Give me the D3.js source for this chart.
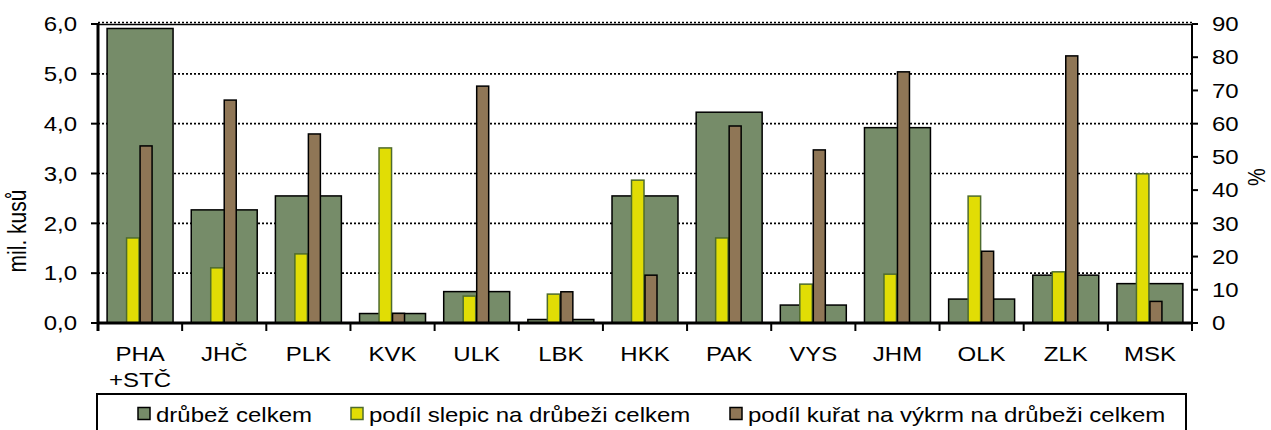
<!DOCTYPE html>
<html>
<head>
<meta charset="utf-8">
<script src="https://cdn.jsdelivr.net/npm/d3@7"></script>
<style>
    body { margin: 0; background: #fff; }
    text { font-family: "Liberation Sans", Arial, sans-serif; fill: #000; }
</style>
</head>
<body>
<div id="chart"></div>
<script>
// kraje
var categories = ["PHA\n+STČ", "JHČ", "PLK", "KVK", "ULK", "LBK", "HKK", "PAK", "VYS", "JHM", "OLK", "ZLK", "MSK"];
// drůbež celkem (mil. kusů)
var drubez = [5.91, 2.27, 2.55, 0.19, 0.63, 0.07, 2.55, 4.23, 0.36, 3.92, 0.48, 0.96, 0.79];
// podíl slepic (%)
var slepice = [25.6, 16.6, 20.8, 52.7, 8.1, 8.7, 43.0, 25.6, 11.7, 14.7, 38.2, 15.4, 44.9];
// podíl kuřat na výkrm (%)
var kurata = [53.3, 67.1, 56.9, 2.9, 71.3, 9.4, 14.4, 59.3, 52.1, 75.6, 21.6, 80.4, 6.5];

var leftTicks = [0, 1, 2, 3, 4, 5, 6];
var rightTicks = [0, 10, 20, 30, 40, 50, 60, 70, 80, 90];
var seriesNames = ["drůbež celkem", "podíl slepic na drůbeži celkem", "podíl kuřat na výkrm na drůbeži celkem"];

var width = 1271;
var height = 430;
var plotLeft = 98, plotRight = 1192, plotTop = 24, plotBottom = 323;
var stretch = 1.2; // text in the original is wider than normal

var green = "#768c69", yellow = "#e1dd05", brown = "#8f7656", yellowStroke = "#4e6b2e";

var svg = d3.select("#chart").append("svg")
    .attr("width", width)
    .attr("height", height);

var x = d3.scaleBand()
    .domain(categories)
    .range([plotLeft, plotRight])
    .paddingInner(0.216)
    .paddingOuter(0.108);

var step = x.step();

var yLeft = d3.scaleLinear().domain([0, 6]).range([plotBottom, plotTop]);
var yRight = d3.scaleLinear().domain([0, 90]).range([plotBottom, plotTop]);

function center(c) {
    return x(c) + x.bandwidth() / 2;
}

//Gridlines
svg.selectAll("line.grid")
    .data(leftTicks.filter((d) => d > 0))
    .enter()
    .append("line")
    .attr("class", "grid")
    .attr("x1", plotLeft)
    .attr("x2", plotRight)
    .attr("y1", (d) => yLeft(d) - (d == 6 ? 1.5 : 0))
    .attr("y2", (d) => yLeft(d) - (d == 6 ? 1.5 : 0))
    .attr("stroke", "#000")
    .attr("stroke-width", 1.6)
    .attr("stroke-dasharray", "2,2");

svg.append("line")
    .attr("x1", plotLeft).attr("x2", plotRight)
    .attr("y1", plotTop + 0.5).attr("y2", plotTop + 0.5)
    .attr("stroke", "#000").attr("stroke-width", 1.5);

//Bars
svg.selectAll("rect.total")
    .data(drubez)
    .enter()
    .append("rect")
    .attr("class", "total")
    .attr("x", (d, i) => x(categories[i]))
    .attr("y", (d) => yLeft(d))
    .attr("width", x.bandwidth())
    .attr("height", (d) => plotBottom - yLeft(d))
    .attr("fill", green)
    .attr("stroke", "#000")
    .attr("stroke-width", 1.5);

svg.selectAll("rect.hens")
    .data(slepice)
    .enter()
    .append("rect")
    .attr("class", "hens")
    .attr("x", (d, i) => center(categories[i]) - 13.5)
    .attr("y", (d) => yRight(d))
    .attr("width", 12.5)
    .attr("height", (d) => plotBottom - yRight(d))
    .attr("fill", yellow)
    .attr("stroke", yellowStroke)
    .attr("stroke-width", 1.5);

svg.selectAll("rect.broilers")
    .data(kurata)
    .enter()
    .append("rect")
    .attr("class", "broilers")
    .attr("x", (d, i) => center(categories[i]))
    .attr("y", (d) => yRight(d))
    .attr("width", 12)
    .attr("height", (d) => plotBottom - yRight(d))
    .attr("fill", brown)
    .attr("stroke", "#000")
    .attr("stroke-width", 1.5);

//Axes lines
svg.append("line")
    .attr("x1", plotLeft).attr("x2", plotLeft)
    .attr("y1", plotTop - 1).attr("y2", plotBottom + 8)
    .attr("stroke", "#000").attr("stroke-width", 3);

svg.append("line")
    .attr("x1", plotRight).attr("x2", plotRight)
    .attr("y1", plotTop).attr("y2", plotBottom + 8)
    .attr("stroke", "#000").attr("stroke-width", 2);

svg.append("line")
    .attr("x1", plotLeft).attr("x2", plotRight + 1)
    .attr("y1", plotBottom).attr("y2", plotBottom)
    .attr("stroke", "#000").attr("stroke-width", 3);

//Left ticks and labels
svg.selectAll("line.ltick")
    .data(leftTicks)
    .enter()
    .append("line")
    .attr("class", "ltick")
    .attr("x1", plotLeft - 7).attr("x2", plotLeft)
    .attr("y1", (d) => yLeft(d)).attr("y2", (d) => yLeft(d))
    .attr("stroke", "#000").attr("stroke-width", 2);

svg.selectAll("text.ltick")
    .data(leftTicks)
    .enter()
    .append("text")
    .attr("class", "ltick")
    .attr("transform", (d) => `translate(77,${yLeft(d)}) scale(${stretch},1)`)
    .attr("dy", "0.36em")
    .attr("text-anchor", "end")
    .style("font-size", "20px")
    .text((d) => d3.format(".1f")(d).replace(".", ","));

//Right ticks and labels
svg.selectAll("line.rtick")
    .data(rightTicks)
    .enter()
    .append("line")
    .attr("class", "rtick")
    .attr("x1", plotRight).attr("x2", plotRight + 6)
    .attr("y1", (d) => yRight(d)).attr("y2", (d) => yRight(d))
    .attr("stroke", "#000").attr("stroke-width", 2);

svg.selectAll("text.rtick")
    .data(rightTicks)
    .enter()
    .append("text")
    .attr("class", "rtick")
    .attr("transform", (d) => `translate(1212,${yRight(d)}) scale(${stretch},1)`)
    .attr("dy", "0.36em")
    .style("font-size", "20px")
    .text((d) => d);

//Category ticks and labels
svg.selectAll("line.xtick")
    .data(d3.range(categories.length + 1))
    .enter()
    .append("line")
    .attr("class", "xtick")
    .attr("x1", (d) => plotLeft + d * step).attr("x2", (d) => plotLeft + d * step)
    .attr("y1", plotBottom).attr("y2", plotBottom + 8)
    .attr("stroke", "#000").attr("stroke-width", 2);

var xLabels = svg.selectAll("text.xlabel")
    .data(categories)
    .enter()
    .append("text")
    .attr("class", "xlabel")
    .attr("transform", (d) => `translate(${center(d)},361) scale(${stretch},1)`)
    .attr("text-anchor", "middle")
    .style("font-size", "20px");

xLabels.selectAll("tspan")
    .data((d) => d.split("\n"))
    .enter()
    .append("tspan")
    .attr("x", 0)
    .attr("dy", (d, i) => i == 0 ? 0 : 26)
    .text((d) => d);

//Axis titles
svg.append("text")
    .attr("transform", `translate(26,231) scale(${stretch},1) rotate(-90)`)
    .attr("text-anchor", "middle")
    .style("font-size", "21px")
    .text("mil. kusů");

svg.append("text")
    .attr("transform", `translate(1265,177) scale(${stretch},1) rotate(-90)`)
    .attr("text-anchor", "middle")
    .style("font-size", "20px")
    .text("%");

//Legend
svg.append("rect")
    .attr("x", 97).attr("y", 394)
    .attr("width", 1089).attr("height", 60)
    .attr("fill", "#fff")
    .attr("stroke", "#000")
    .attr("stroke-width", 2);

var legendX = [138, 351, 730];
var legendFill = [green, yellow, brown];
var legendStroke = ["#000", yellowStroke, "#000"];

var legend = svg.selectAll("g.legend")
    .data(seriesNames)
    .enter()
    .append("g")
    .attr("class", "legend")
    .attr("transform", (d, i) => `translate(${legendX[i]},0)`);

legend.append("rect")
    .attr("x", 0).attr("y", 407.5)
    .attr("width", 12).attr("height", 12)
    .attr("fill", (d, i) => legendFill[i])
    .attr("stroke", (d, i) => legendStroke[i])
    .attr("stroke-width", 1.5);

legend.append("text")
    .attr("transform", `translate(18,422) scale(${stretch},1)`)
    .style("font-size", "20px")
    .text((d) => d);
</script>
</body>
</html>
